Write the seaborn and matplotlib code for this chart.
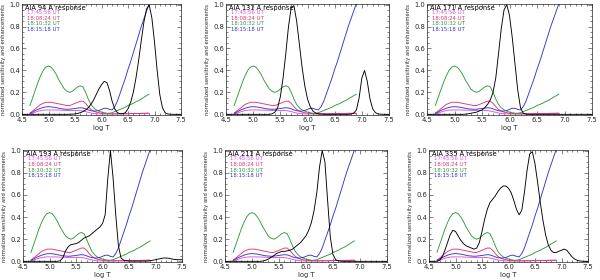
import numpy as np
import pandas as pd
import matplotlib
matplotlib.use("Agg")
import matplotlib.pyplot as plt
import seaborn as sns
from matplotlib.ticker import MultipleLocator

# ---------------- data ----------------
channels = ["94", "131", "171", "193", "211", "335"]
titles = ["AIA 94 A response", "AIA 131 A response", "AIA 171 A response",
          "AIA 193 A response", "AIA 211 A response", "AIA 335 A response"]

# temperature grid of the response curves (log T = 4.50 ... 7.50, step 0.05)
logt_resp = np.round(np.arange(4.5, 7.5001, 0.05), 2)

resp_94 = [0, 0, 0, 0, 0, 0, 0, 0, 0, 0,
           0, 0, 0, 0, 0, 0, 0, 0, 0.001, 0.002,
           0.004, 0.008, 0.015, 0.025, 0.04, 0.06, 0.09, 0.13, 0.18, 0.23,
           0.27, 0.30, 0.29, 0.22, 0.12, 0.05, 0.015, 0.006, 0.006, 0.015,
           0.05, 0.11, 0.20, 0.33, 0.49, 0.67, 0.84, 0.96, 0.995, 0.88,
           0.66, 0.40, 0.18, 0.06, 0.015, 0.003, 0.001, 0, 0, 0, 0]
resp_131 = [0, 0, 0, 0, 0, 0, 0, 0, 0, 0,
            0, 0, 0, 0, 0, 0, 0, 0.005, 0.02, 0.06,
            0.16, 0.33, 0.55, 0.80, 0.97, 0.99, 0.85, 0.64, 0.43, 0.26,
            0.14, 0.07, 0.03, 0.012, 0.005, 0.002, 0.001, 0, 0, 0,
            0, 0, 0, 0, 0, 0, 0.002, 0.01, 0.04, 0.15,
            0.33, 0.40, 0.30, 0.14, 0.05, 0.015, 0.004, 0.001, 0, 0, 0]
resp_171 = [0, 0, 0, 0, 0, 0, 0, 0, 0, 0,
            0, 0, 0, 0, 0.002, 0.005, 0.01, 0.015, 0.02, 0.03,
            0.04, 0.06, 0.09, 0.13, 0.20, 0.33, 0.55, 0.78, 0.95, 1.0,
            0.90, 0.70, 0.46, 0.22, 0.06, 0.01, 0.002, 0, 0, 0,
            0, 0, 0, 0, 0, 0, 0, 0, 0, 0,
            0, 0, 0, 0, 0, 0, 0, 0, 0, 0, 0]
resp_193 = [0, 0, 0, 0, 0, 0, 0, 0, 0, 0,
            0, 0, 0, 0, 0.005, 0.03, 0.09, 0.13, 0.15, 0.155,
            0.16, 0.17, 0.19, 0.21, 0.22, 0.23, 0.25, 0.27, 0.29, 0.31,
            0.34, 0.42, 0.75, 1.0, 0.75, 0.42, 0.14, 0.03, 0.01, 0.005,
            0.002, 0.002, 0.002, 0.002, 0.002, 0.002, 0.002, 0.002, 0.005, 0.01,
            0.015, 0.02, 0.025, 0.03, 0.03, 0.028, 0.022, 0.018, 0.015, 0.015, 0.015]
resp_211 = [0, 0, 0, 0, 0, 0, 0, 0, 0, 0,
            0, 0, 0, 0, 0.003, 0.01, 0.02, 0.035, 0.05, 0.07,
            0.08, 0.09, 0.09, 0.095, 0.10, 0.11, 0.13, 0.15, 0.17, 0.20,
            0.23, 0.28, 0.35, 0.46, 0.62, 0.85, 1.0, 0.90, 0.55, 0.22,
            0.06, 0.015, 0.005, 0.001, 0, 0, 0, 0, 0, 0,
            0, 0, 0, 0, 0, 0, 0, 0, 0, 0, 0]
resp_335 = [0, 0, 0, 0, 0.01, 0.04, 0.10, 0.17, 0.24, 0.28,
            0.27, 0.23, 0.19, 0.16, 0.14, 0.13, 0.12, 0.11, 0.12, 0.17,
            0.27, 0.38, 0.47, 0.53, 0.56, 0.59, 0.63, 0.66, 0.68, 0.68,
            0.66, 0.62, 0.55, 0.47, 0.42, 0.46, 0.62, 0.82, 0.97, 0.99,
            0.88, 0.71, 0.53, 0.37, 0.24, 0.15, 0.10, 0.08, 0.08, 0.09,
            0.10, 0.11, 0.10, 0.07, 0.04, 0.02, 0.008, 0.003, 0.001, 0, 0]
responses = [resp_94, resp_131, resp_171, resp_193, resp_211, resp_335]

# temperature grid of the enhancement curves (log T = 4.65 ... 6.90, step 0.05)
logt_enh = np.round(np.arange(4.65, 6.9001, 0.05), 2)

times = ["17:45:56 UT", "18:08:24 UT", "18:10:32 UT", "18:15:18 UT"]
enh_174556 = [0.003, 0.01, 0.02, 0.028, 0.034, 0.038, 0.04, 0.04, 0.04, 0.04,
              0.039, 0.038, 0.037, 0.036, 0.035, 0.035, 0.035, 0.035, 0.035, 0.034,
              0.03, 0.025, 0.018, 0.012, 0.008, 0.005, 0.004, 0.003, 0.003, 0.003,
              0.003, 0.003, 0.004, 0.004, 0.005, 0.005, 0.006, 0.006, 0.007, 0.007,
              0.008, 0.008, 0.009, 0.009, 0.01, 0.01]
enh_180824 = [0.01, 0.03, 0.05, 0.07, 0.09, 0.10, 0.11, 0.11, 0.11, 0.105,
              0.10, 0.095, 0.09, 0.085, 0.08, 0.08, 0.09, 0.10, 0.11, 0.12,
              0.12, 0.10, 0.07, 0.045, 0.03, 0.02, 0.015, 0.01, 0.008, 0.006,
              0.005, 0.005, 0.005, 0.005, 0.005, 0.005, 0.006, 0.006, 0.007, 0.007,
              0.008, 0.008, 0.009, 0.009, 0.01, 0.01]
enh_181032 = [0.08, 0.15, 0.22, 0.29, 0.35, 0.40, 0.43, 0.44, 0.43, 0.40,
              0.36, 0.31, 0.27, 0.23, 0.21, 0.20, 0.21, 0.23, 0.25, 0.26,
              0.25, 0.20, 0.14, 0.09, 0.06, 0.04, 0.03, 0.02, 0.015, 0.01,
              0.01, 0.015, 0.025, 0.035, 0.045, 0.055, 0.065, 0.08, 0.09, 0.10,
              0.115, 0.125, 0.14, 0.155, 0.17, 0.185]
enh_181518 = [0.01, 0.02, 0.035, 0.045, 0.055, 0.063, 0.068, 0.07, 0.068, 0.065,
              0.06, 0.055, 0.05, 0.048, 0.046, 0.047, 0.05, 0.053, 0.057, 0.06,
              0.058, 0.05, 0.04, 0.033, 0.03, 0.03, 0.035, 0.045, 0.055, 0.055,
              0.045, 0.04, 0.07, 0.12, 0.19, 0.26, 0.33, 0.41, 0.48, 0.56,
              0.64, 0.72, 0.80, 0.87, 0.94, 1.01]
enhancements = [enh_174556, enh_180824, enh_181032, enh_181518]
time_colors = ["#e050e0", "#e8307a", "#2e9a3a", "#3535c8"]

# ---------------- tables ----------------
enh_df = pd.concat([pd.DataFrame({"logT": logt_enh, "value": v, "time": t})
                    for t, v in zip(times, enhancements)], ignore_index=True)

# ---------------- figure ----------------
sns.set_style("ticks")
plt.rcParams["font.family"] = ["DejaVu Sans"]
W, H = 600, 280
fig = plt.figure(figsize=(6.0, 2.8), dpi=100)

# axes boxes in pixels: (left, right, top, bottom)
boxes = [(22, 181, 4, 115), (226, 389, 4, 115), (427, 592, 4, 115),
         (23, 182, 150, 262), (225, 387, 150, 262), (429, 588, 150, 262)]

fs = 4.9
for i, (ch, title, resp) in enumerate(zip(channels, titles, responses)):
    l, r, t, b = boxes[i]
    ax = fig.add_axes([l / W, 1 - b / H, (r - l) / W, (b - t) / H])
    sns.lineplot(data=enh_df, x="logT", y="value", hue="time", hue_order=times,
                 palette=time_colors, ax=ax, legend=False, linewidth=0.65,
                 estimator=None, sort=False)
    sns.lineplot(x=logt_resp, y=resp, ax=ax, color="black", linewidth=0.65,
                 estimator=None, sort=False)
    ax.set_xlim(4.5, 7.5)
    ax.set_ylim(-0.006, 1.005)
    ax.xaxis.set_major_locator(MultipleLocator(0.5))
    ax.xaxis.set_minor_locator(MultipleLocator(0.1))
    ax.yaxis.set_major_locator(MultipleLocator(0.2))
    ax.yaxis.set_minor_locator(MultipleLocator(0.05))
    ax.tick_params(which="both", direction="in", top=True, right=True,
                   width=0.4, labelsize=fs, pad=1.5)
    ax.tick_params(which="major", length=3)
    ax.tick_params(which="minor", length=1.5)
    for s in ax.spines.values():
        s.set_linewidth(0.5)
    ax.set_xlabel("log T", fontsize=fs, labelpad=1.5)
    ax.set_ylabel("normalized sensitivity and enhancements", fontsize=3.8,
                  labelpad=2)
    ax.text(0.02, 0.995, title, transform=ax.transAxes, fontsize=4.8,
            va="top", ha="left", color="black")
    for j, (tm, c) in enumerate(zip(times, time_colors)):
        ax.text(0.03, 0.92 - j * 0.05, tm, transform=ax.transAxes,
                fontsize=3.9, va="center", ha="left", color=c)

fig.savefig("out.png", dpi=100)
